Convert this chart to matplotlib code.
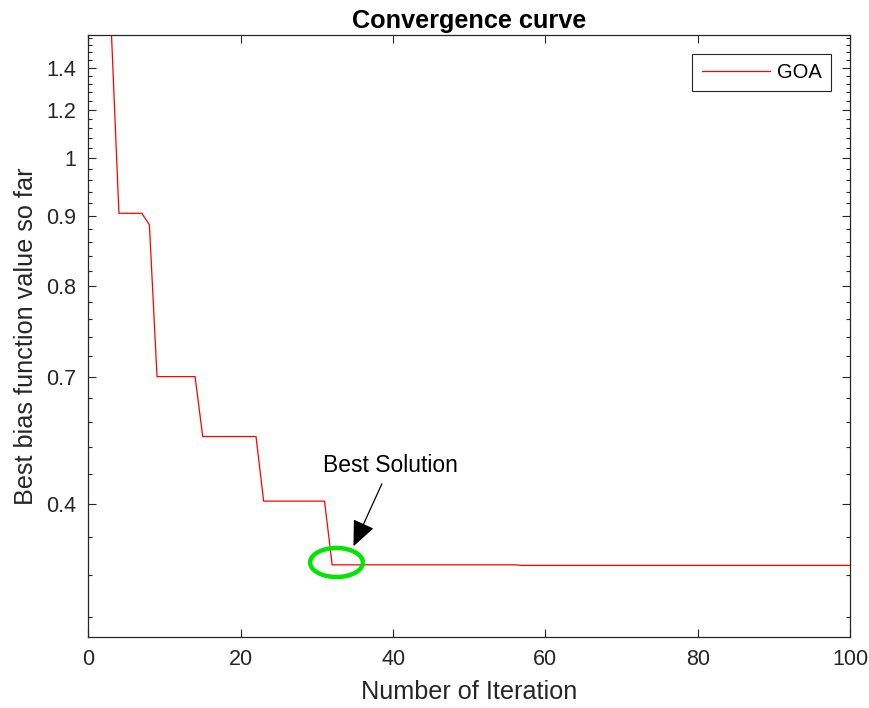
import numpy as np
import matplotlib
matplotlib.use('Agg')
from matplotlib import pyplot as plt
from matplotlib.path import Path
from matplotlib.ticker import FixedLocator, NullFormatter

plt.rcParams['font.family'] = ['Liberation Sans', 'DejaVu Sans']

# best-so-far values per iteration (log axis, relabelled ticks as in the original)
iters = np.arange(1, 101)
best = ([80.0, 60.0, 45.0] + [25.2] * 4 + [24.3] + [15.0] * 6 + [12.4] * 8
        + [10.1] * 9 + [8.25] * 25 + [8.235] * 44)

ytick_pos = [10, 15, 20, 25, 30, 35, 40]
ytick_lab = ['0.4', '0.7', '0.8', '0.9', '1', '1.2', '1.4']
xtick_pos = [0, 20, 40, 60, 80, 100]

best_pt = (32.5, 8.33)          # circled point
arrow_tip = (34.8, 8.75)
label_pos = (39.6, 11.3)

fig = plt.figure(figsize=(8.7, 7.08), dpi=100)
ax = fig.add_axes([0.1017, 0.1003, 0.8753, 0.8503])

ax.plot(iters, best, color='red', lw=0.9, label='GOA')
ax.set_yscale('log')
ax.set_xlim(0, 100)
ax.set_ylim(6.56, 44.4)

ax.set_xticks(xtick_pos)
ax.set_yticks(ytick_pos)
ax.set_yticklabels(ytick_lab)
minor = [v for v in range(7, 45) if v not in ytick_pos]
ax.yaxis.set_minor_locator(FixedLocator(minor))
ax.yaxis.set_minor_formatter(NullFormatter())
ax.xaxis.set_minor_locator(FixedLocator([]))

ax.tick_params(which='both', direction='in', top=True, right=True,
               color='#262626', labelcolor='#262626', labelsize=15.5, width=0.8)
ax.tick_params(which='major', length=5.8, pad=9)
ax.tick_params(which='minor', length=2.9)
for s in ax.spines.values():
    s.set_color('#262626')
    s.set_linewidth(0.9)

ax.set_xlabel('Number of Iteration', fontsize=18.2, color='#262626', labelpad=7)
ax.set_ylabel('Best bias function value so far', fontsize=18.2, color='#262626', labelpad=5.5)
ax.set_title('Convergence curve', fontsize=18.2, fontweight='bold', pad=5)

# green ellipse round the best solution
t = np.linspace(0, 2 * np.pi, 80)
ell = Path(np.column_stack([np.cos(t), 0.55 * np.sin(t)]))
ax.plot([best_pt[0]], [best_pt[1]], marker=ell, ms=38, mfc='none',
        mec='#00e600', mew=3.2, ls='none')

ax.annotate('Best Solution', xy=arrow_tip, xytext=label_pos, ha='center', va='center',
            fontsize=16.5,
            arrowprops=dict(arrowstyle='-|>,head_length=1.6,head_width=0.7',
                            mutation_scale=10, color='black', lw=0.9, shrinkA=3, shrinkB=0))

leg = ax.legend(loc='upper right', fontsize=14.5, handlelength=3.4, handletextpad=0.35,
                fancybox=False, framealpha=1, borderaxespad=0.95, borderpad=0.45)
leg.get_frame().set_edgecolor('#262626')
leg.get_frame().set_linewidth(0.8)

fig.savefig('out.png', dpi=100)
